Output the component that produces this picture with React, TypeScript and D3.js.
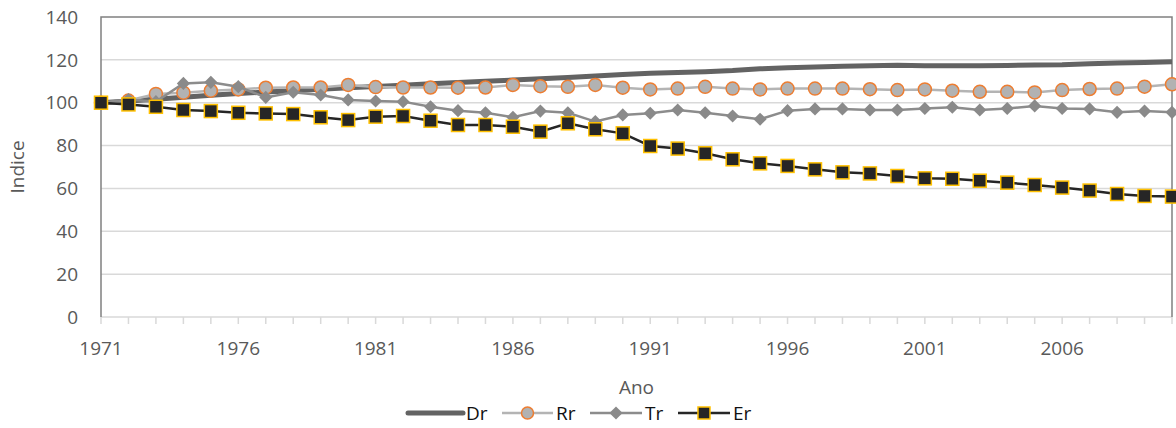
import React, { useEffect, useRef } from 'react';
import * as d3 from 'd3';

const years = d3.range(1971, 2011);
const yTicks = [0, 20, 40, 60, 80, 100, 120, 140];
const xTickLabels = [1971, 1976, 1981, 1986, 1991, 1996, 2001, 2006];

const dr = [100, 100.8, 101.6, 102.5, 103.5, 104.3, 105, 105.6, 106.3, 107, 107.6, 108.2, 108.8, 109.4, 110, 110.6, 111.2, 111.8, 112.5, 113.2,
  113.7, 114.1, 114.5, 115, 115.8, 116.3, 116.7, 117, 117.3, 117.5, 117.2, 117.2, 117.3, 117.4, 117.6, 117.7, 118.2, 118.5, 118.8, 119.1];
const rr = [100, 101, 104.1, 104.7, 105.6, 106.2, 107, 107.1, 107.1, 108.3, 107.3, 107.1, 107.1, 107, 107.1, 108.3, 107.7, 107.4, 108.3, 107,
  106.2, 106.6, 107.4, 106.6, 106.2, 106.6, 106.6, 106.6, 106.3, 105.9, 106.2, 105.6, 105.1, 105.1, 104.8, 105.9, 106.4, 106.6, 107.5, 108.6];
const tr = [100, 101.5, 100.5, 109, 109.5, 107.5, 102.5, 104.9, 103.6, 101.3, 100.8, 100.5, 98.1, 96.3, 95.3, 93.2, 96.1, 95.3, 91.2, 94.3,
  95.1, 96.6, 95.3, 93.8, 92.3, 96.3, 97.1, 97.1, 96.6, 96.6, 97.3, 97.9, 96.6, 97.3, 98.5, 97.3, 97.1, 95.5, 96.1, 95.5];
const er = [100, 99.2, 98.1, 96.6, 96.1, 95.3, 95, 94.7, 93.2, 91.9, 93.5, 93.8, 91.6, 89.6, 89.6, 88.8, 86.5, 90.4, 87.6, 85.7,
  79.8, 78.6, 76.4, 73.6, 71.7, 70.5, 68.9, 67.5, 67, 65.8, 64.7, 64.5, 63.6, 62.7, 61.6, 60.4, 59, 57.4, 56.5, 56.2];

const seriesNames = ['Dr', 'Rr', 'Tr', 'Er'];

const W = 1176;
const H = 428;
const FONT = '"Open Sans", sans-serif';

const App: React.FC = () => {
  const svgRef = useRef<SVGSVGElement>(null);

  useEffect(() => {
    if (!svgRef.current) return;
    const svg = d3.select(svgRef.current);
    svg.selectAll('*').remove();

    const left = 101, right = 1172, top = 17, bottom = 317;

    const x = d3.scaleLinear().domain([1971, 2010]).range([left, right]);
    const y = d3.scaleLinear().domain([0, 140]).range([bottom, top]);

    // gridlines
    svg.append('g')
      .selectAll('line')
      .data(yTicks.filter(t => t > 0 && t < 140))
      .enter()
      .append('line')
      .attr('x1', left).attr('x2', right)
      .attr('y1', d => y(d)).attr('y2', d => y(d))
      .attr('stroke', '#d9d9d9')
      .attr('stroke-width', 1.5);

    // x axis line + ticks
    svg.append('line')
      .attr('x1', left).attr('x2', right)
      .attr('y1', bottom).attr('y2', bottom)
      .attr('stroke', '#d9d9d9').attr('stroke-width', 1.5);

    svg.append('g')
      .selectAll('line')
      .data(years)
      .enter()
      .append('line')
      .attr('x1', d => x(d)).attr('x2', d => x(d))
      .attr('y1', bottom).attr('y2', bottom + 7)
      .attr('stroke', '#d9d9d9').attr('stroke-width', 1.5);

    // plot border (left, top, right)
    svg.append('path')
      .attr('d', `M${left},${bottom}V${top}H${right}V${bottom}`)
      .attr('fill', 'none')
      .attr('stroke', '#808080')
      .attr('stroke-width', 1.5);

    // tick labels
    svg.append('g')
      .selectAll('text')
      .data(yTicks)
      .enter()
      .append('text')
      .attr('x', 78)
      .attr('y', d => y(d))
      .attr('dy', '0.35em')
      .attr('text-anchor', 'end')
      .attr('fill', '#595959')
      .style('font-family', FONT)
      .style('font-size', '19px')
      .text(d => d);

    svg.append('g')
      .selectAll('text')
      .data(xTickLabels)
      .enter()
      .append('text')
      .attr('x', d => x(d))
      .attr('y', 348)
      .attr('dy', '0.35em')
      .attr('text-anchor', 'middle')
      .attr('fill', '#595959')
      .style('font-family', FONT)
      .style('font-size', '19px')
      .text(d => d);

    // axis titles
    svg.append('text')
      .attr('transform', `translate(24,${(top + bottom) / 2}) rotate(-90)`)
      .attr('text-anchor', 'middle')
      .attr('fill', '#595959')
      .style('font-family', FONT)
      .style('font-size', '19px')
      .text('Indice');

    svg.append('text')
      .attr('x', (left + right) / 2)
      .attr('y', 387)
      .attr('dy', '0.35em')
      .attr('text-anchor', 'middle')
      .attr('fill', '#595959')
      .style('font-family', FONT)
      .style('font-size', '19px')
      .text('Ano');

    const line = d3.line<number>().x((_, i) => x(years[i])).y(d => y(d));
    const diamond = d3.symbol().type(d3.symbolDiamond2).size(110);

    // Dr
    svg.append('path').datum(dr)
      .attr('d', line).attr('fill', 'none')
      .attr('stroke', '#636363').attr('stroke-width', 5);

    // Rr
    svg.append('path').datum(rr)
      .attr('d', line).attr('fill', 'none')
      .attr('stroke', '#b4b4b4').attr('stroke-width', 2.5);
    svg.append('g').selectAll('circle').data(rr).enter().append('circle')
      .attr('cx', (_, i) => x(years[i])).attr('cy', d => y(d)).attr('r', 6.5)
      .attr('fill', '#b2b2b2').attr('stroke', '#ed7d31').attr('stroke-width', 1.5);

    // Tr
    svg.append('path').datum(tr)
      .attr('d', line).attr('fill', 'none')
      .attr('stroke', '#8c8c8c').attr('stroke-width', 2.5);
    svg.append('g').selectAll('path').data(tr).enter().append('path')
      .attr('d', diamond)
      .attr('transform', (d, i) => `translate(${x(years[i])},${y(d)})`)
      .attr('fill', '#8a8a8a');

    // Er
    svg.append('path').datum(er)
      .attr('d', line).attr('fill', 'none')
      .attr('stroke', '#262626').attr('stroke-width', 2.5);
    svg.append('g').selectAll('rect').data(er).enter().append('rect')
      .attr('x', (_, i) => x(years[i]) - 6.5).attr('y', d => y(d) - 6.5)
      .attr('width', 13).attr('height', 13)
      .attr('fill', '#262626').attr('stroke', '#ffc000').attr('stroke-width', 1.5);

    // legend
    const ly = 413;
    const legend = svg.append('g');
    const items = [
      { name: seriesNames[0], x0: 408, x1: 463 },
      { name: seriesNames[1], x0: 502, x1: 553 },
      { name: seriesNames[2], x0: 590, x1: 642 },
      { name: seriesNames[3], x0: 678, x1: 730 },
    ];
    items.forEach((it, i) => {
      const cx = (it.x0 + it.x1) / 2;
      if (i === 0) {
        legend.append('line').attr('x1', it.x0).attr('x2', it.x1).attr('y1', ly).attr('y2', ly)
          .attr('stroke', '#636363').attr('stroke-width', 5).attr('stroke-linecap', 'round');
      } else if (i === 1) {
        legend.append('line').attr('x1', it.x0).attr('x2', it.x1).attr('y1', ly).attr('y2', ly)
          .attr('stroke', '#b4b4b4').attr('stroke-width', 2.5);
        legend.append('circle').attr('cx', cx).attr('cy', ly).attr('r', 6)
          .attr('fill', '#b2b2b2').attr('stroke', '#ed7d31').attr('stroke-width', 1.5);
      } else if (i === 2) {
        legend.append('line').attr('x1', it.x0).attr('x2', it.x1).attr('y1', ly).attr('y2', ly)
          .attr('stroke', '#8c8c8c').attr('stroke-width', 2.5);
        legend.append('path').attr('d', diamond).attr('transform', `translate(${cx},${ly})`)
          .attr('fill', '#8a8a8a');
      } else {
        legend.append('line').attr('x1', it.x0).attr('x2', it.x1).attr('y1', ly).attr('y2', ly)
          .attr('stroke', '#262626').attr('stroke-width', 2.5);
        legend.append('rect').attr('x', cx - 6).attr('y', ly - 6).attr('width', 12).attr('height', 12)
          .attr('fill', '#262626').attr('stroke', '#ffc000').attr('stroke-width', 1.5);
      }
      legend.append('text')
        .attr('x', it.x1 + 3).attr('y', ly).attr('dy', '0.35em')
        .attr('fill', '#111')
        .style('font-family', FONT)
        .style('font-size', '19px')
        .text(it.name);
    });
  }, []);

  return (
    <div style={{ position: 'absolute', left: 0, top: 0 }}>
      <svg ref={svgRef} width={W} height={H} style={{ display: 'block', background: '#fff' }} />
    </div>
  );
};

export default App;
